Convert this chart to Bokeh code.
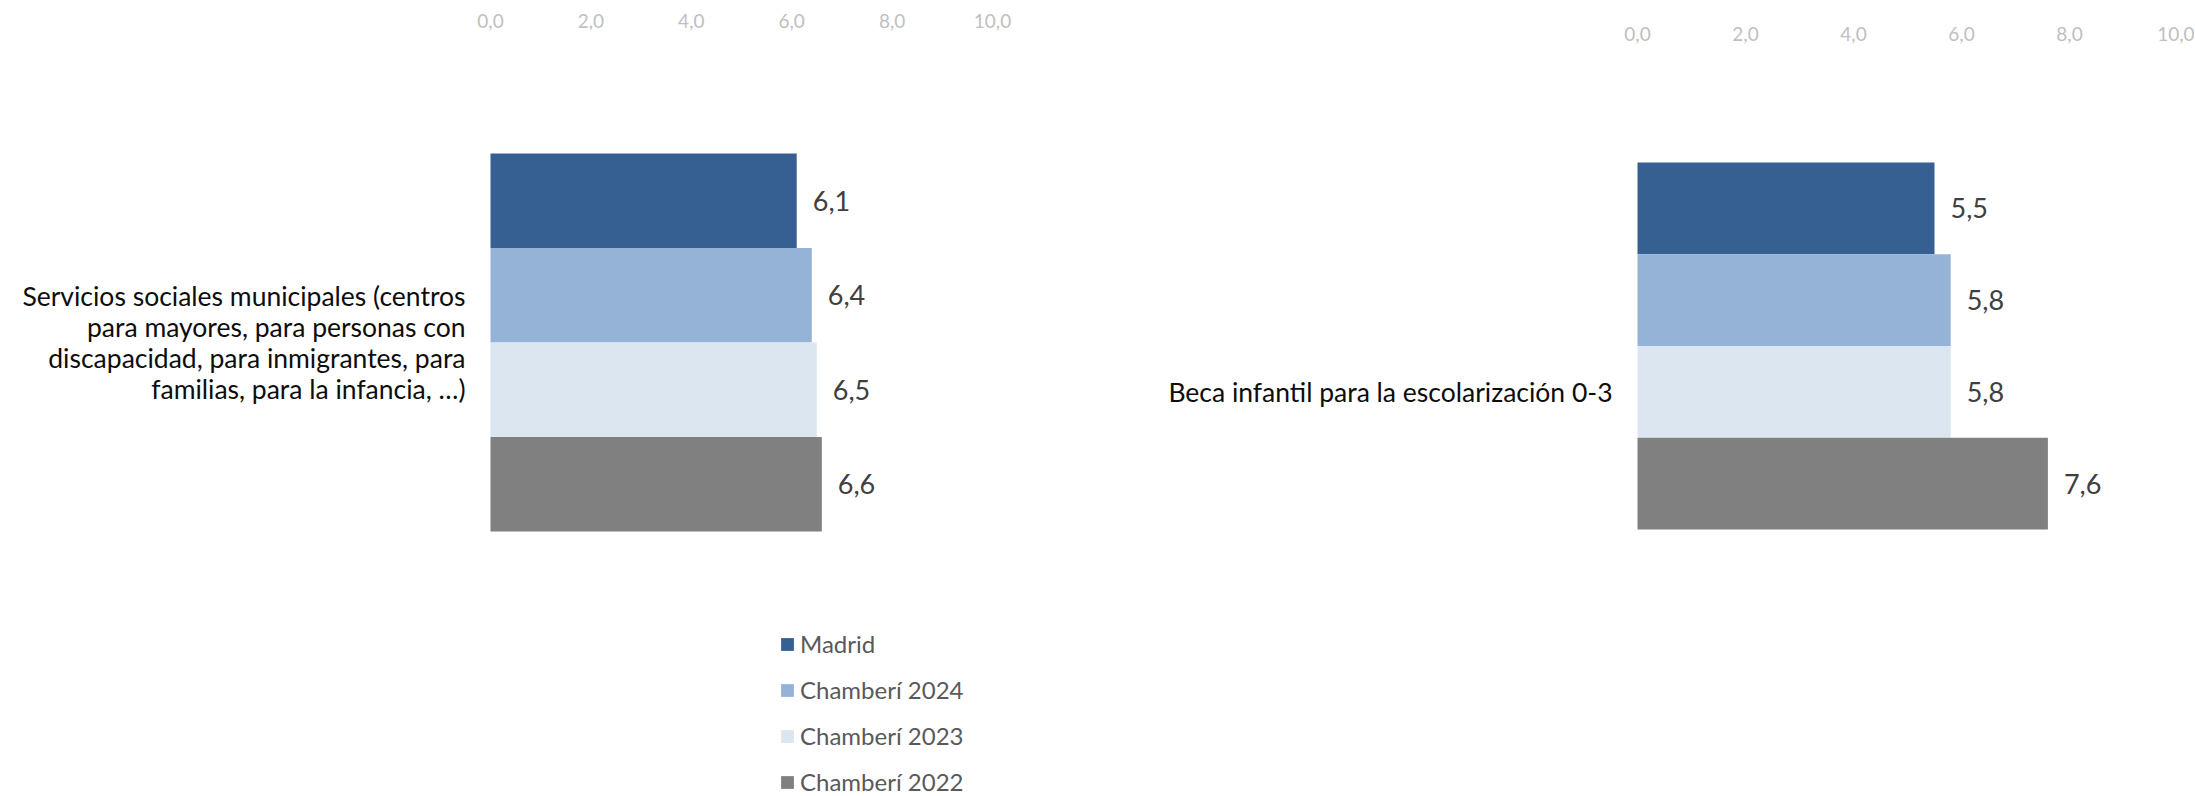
from bokeh.plotting import figure
from bokeh.models import Range1d, FixedTicker, Legend, LegendItem, ColumnDataSource
from bokeh.layouts import row
from bokeh.core.properties import value
from bokeh.embed import file_html
from bokeh.resources import INLINE

# ---- data ----
categories = [
    ["Servicios sociales municipales (centros", "para mayores, para personas con",
     "discapacidad, para inmigrantes, para", "familias, para la infancia, …)"],
    ["Beca infantil para la escolarización 0-3"],
]
series = ["Madrid", "Chamberí 2024", "Chamberí 2023", "Chamberí 2022"]
servicios_sociales = [6.1, 6.4, 6.5, 6.6]
beca_infantil = [5.5, 5.8, 5.8, 7.6]
tick_values = [0, 2, 4, 6, 8, 10]
tick_labels = ["0,0", "2,0", "4,0", "6,0", "8,0", "10,0"]
colors = ["#366092", "#95B3D7", "#DCE6F1", "#808080"]

FONT = "Lato"
PAGE_LEFT = 0
PAGE_TOP = 0
PAGE_BOTTOM = 796
FRAME_TOP = 43
W1, W2 = 1100, 1094
LINE_STEP = 30.8


def fmt(v):
    return f"{v:.1f}".replace(".", ",")


def make_chart(cat_lines, vals, fig_left, width, zero_x, px_per_unit, bars_top, unit, label_y, standoff):
    n = len(series)
    ys = [n - 1 - i for i in range(n)]
    x_start = -(zero_x - fig_left) / px_per_unit
    x_end = x_start + width / px_per_unit
    H = PAGE_BOTTOM - FRAME_TOP
    y_end = (n - 0.5) + (bars_top - FRAME_TOP) / unit
    y_start = y_end - H / unit
    p = figure(width=width, height=PAGE_BOTTOM - PAGE_TOP, output_backend="svg", toolbar_location=None,
               x_range=Range1d(x_start, x_end), y_range=Range1d(y_start, y_end),
               x_axis_location="above", y_axis_location=None,
               min_border_left=0, min_border_right=0, min_border_top=FRAME_TOP - PAGE_TOP,
               min_border_bottom=0)
    p.outline_line_color = None
    p.xgrid.visible = False
    p.ygrid.visible = False
    ax = p.xaxis[0]
    ax.ticker = FixedTicker(ticks=tick_values)
    ax.major_label_overrides = {t: l for t, l in zip(tick_values, tick_labels)}
    ax.axis_line_color = None
    ax.major_tick_line_color = None
    ax.minor_tick_line_color = None
    ax.major_tick_out = 0
    ax.major_tick_in = 0
    ax.major_label_text_color = "#BFBFBF"
    ax.major_label_text_font = FONT
    ax.major_label_text_font_size = "19px"
    ax.major_label_standoff = standoff

    renderers = []
    for i in range(n):
        r = p.hbar(y=[ys[i]], left=0, right=[vals[i]], height=1.0, fill_color=colors[i], line_color=None)
        renderers.append(r)
    src = ColumnDataSource(dict(y=ys, v=vals, t=[fmt(v) for v in vals]))
    p.text(x="v", y="y", text="t", source=src, x_offset=16, text_baseline="middle", text_align="left",
           text_font=value(FONT), text_font_size="27px", text_color="#404040")
    m = len(cat_lines)
    yc = label_y(ys)
    csrc = ColumnDataSource(dict(x=[0] * m, y=[yc] * m, t=cat_lines,
                                 dy=[(k - (m - 1) / 2) * LINE_STEP for k in range(m)]))
    p.text(x="x", y="y", text="t", source=csrc, x_offset=-25, y_offset="dy", text_align="right",
           text_baseline="middle", text_font=value(FONT), text_font_size="26.5px", text_color="#0D0D0D")
    return p, renderers


p1, r1 = make_chart(categories[0], servicios_sociales, PAGE_LEFT, W1, 490, 50.2, 153, 94.5,
                    lambda ys: sum(ys) / len(ys), 16)
p2, r2 = make_chart(categories[1], beca_infantil, PAGE_LEFT + W1, W2, 1637, 54.0, 162, 91.75,
                    lambda ys: ys[2], 3)

item_h, spacing = 29, 17
legend_top = 629
legend = Legend(items=[LegendItem(label=s, renderers=[r]) for s, r in zip(series, r1)],
                location=(779 - PAGE_LEFT, PAGE_BOTTOM - (legend_top + 4 * item_h + 3 * spacing)),
                orientation="vertical", padding=0, margin=0, spacing=spacing,
                glyph_width=16, glyph_height=16, label_standoff=5, label_height=24,
                label_text_font=FONT, label_text_font_size="24px", label_text_color="#595959",
                border_line_color=None, background_fill_alpha=0)
p1.add_layout(legend)

layout = row(p1, p2)
open("out.html", "w").write(file_html(layout, INLINE))
